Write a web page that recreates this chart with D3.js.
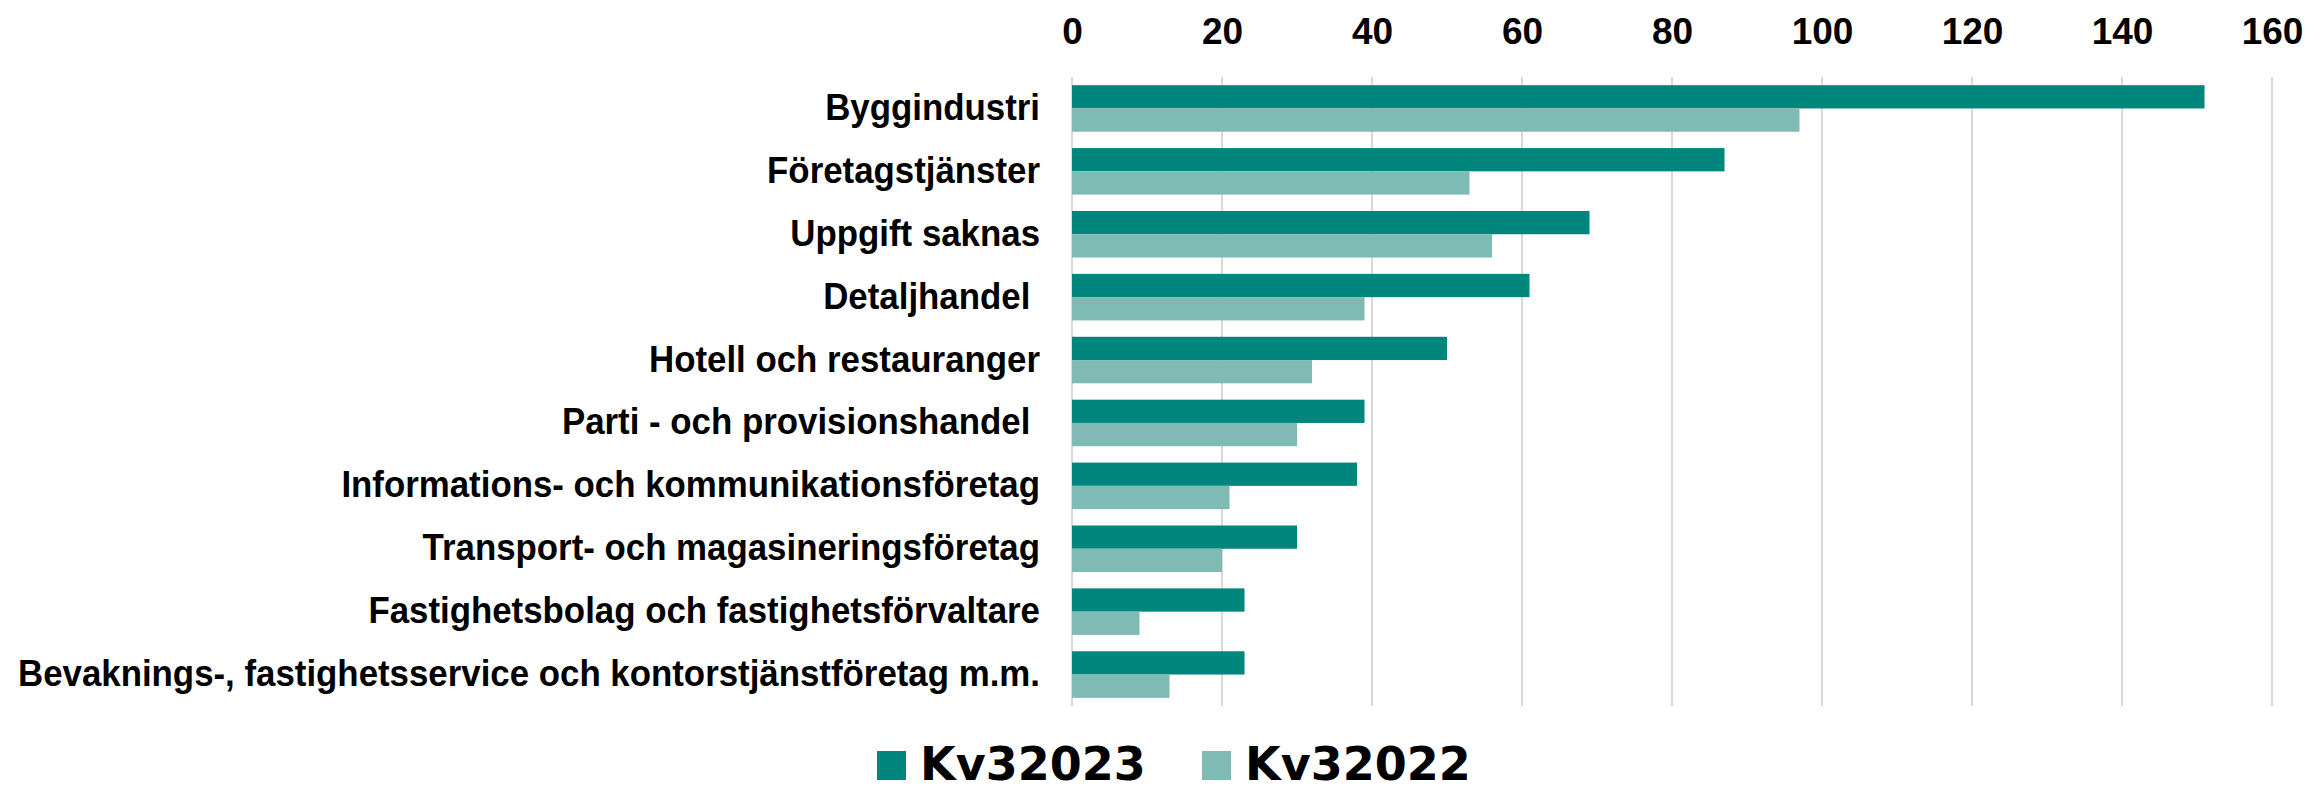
<!DOCTYPE html>
<html>
<head>
<meta charset="utf-8">
<script src="https://cdn.jsdelivr.net/npm/d3@7"></script>
<style>
  body { margin: 0; background: #fff; }
  svg text { white-space: pre; }
</style>
</head>
<body>
<svg id="chart"></svg>
<script>
const categories = [
    "Byggindustri",
    "Företagstjänster",
    "Uppgift saknas",
    "Detaljhandel ",
    "Hotell och restauranger",
    "Parti - och provisionshandel ",
    "Informations- och kommunikationsföretag",
    "Transport- och magasineringsföretag",
    "Fastighetsbolag och fastighetsförvaltare",
    "Bevaknings-, fastighetsservice och kontorstjänstföretag m.m."
];
const seriesNames = ["Kv32023", "Kv32022"];
const kv32023 = [151, 87, 69, 61, 50, 39, 38, 30, 23, 23];
const kv32022 = [97, 53, 56, 39, 32, 30, 21, 20, 9, 13];
const xTicks = [0, 20, 40, 60, 80, 100, 120, 140, 160];
const colors = ["#00867d", "#80bab4"];

const width = 2313;
const height = 793;
const plotLeft = 1072, plotRight = 2272, plotTop = 77, plotBottom = 706;
const labelRight = plotLeft - 32;
const longestLabelWidth = 1022; // widest category label in the original

const rows = categories.map(function (c, i) {
    return { cat: c, values: [kv32023[i], kv32022[i]] };
});

const svg = d3.select("#chart").attr("width", width).attr("height", height);

const x = d3.scaleLinear().domain([0, 160]).range([plotLeft, plotRight]);
const y = d3.scaleBand().domain(categories).range([plotTop, plotBottom])
    .paddingInner(0.26).paddingOuter(0.13);
const y1 = d3.scaleBand().domain(seriesNames).range([0, y.bandwidth()]);

// gridlines
svg.append("g").attr("class", "grid")
    .selectAll("line")
    .data(xTicks)
    .enter()
    .append("line")
    .attr("x1", function (d) { return x(d) })
    .attr("x2", function (d) { return x(d) })
    .attr("y1", plotTop)
    .attr("y2", plotBottom)
    .attr("stroke", "#d9d9d9")
    .attr("stroke-width", 2);

// top axis labels
const xAxis = svg.append("g")
    .attr("transform", "translate(0," + 44 + ")")
    .call(d3.axisTop(x).tickValues(xTicks).tickSize(0).tickPadding(0));
xAxis.select(".domain").remove();
xAxis.selectAll("text")
    .attr("font-family", "'Liberation Sans', Arial, sans-serif")
    .attr("font-weight", "bold")
    .attr("font-size", 37)
    .attr("fill", "#000");

// bars
const groups = svg.append("g").attr("class", "bars")
    .selectAll("g")
    .data(rows)
    .enter()
    .append("g")
    .attr("transform", function (d) { return "translate(0," + y(d.cat) + ")" });

groups.selectAll("rect")
    .data(function (d) { return d.values.map(function (v, i) { return { key: seriesNames[i], value: v, i: i } }) })
    .enter()
    .append("rect")
    .attr("x", x(0))
    .attr("y", function (d) { return y1(d.key) })
    .attr("height", y1.bandwidth())
    .attr("width", function (d) { return x(d.value) - x(0) })
    .attr("fill", function (d) { return colors[d.i] });

// category labels
const yAxis = svg.append("g")
    .attr("transform", "translate(" + labelRight + ",0)")
    .call(d3.axisLeft(y).tickSize(0).tickPadding(0));
yAxis.select(".domain").remove();
const catText = yAxis.selectAll("text")
    .attr("font-family", "'Liberation Sans', Arial, sans-serif")
    .attr("font-weight", "bold")
    .attr("font-size", 36)
    .attr("fill", "#000");

// squeeze the labels so they read narrow like the original
let maxLen = 0;
catText.each(function () { maxLen = Math.max(maxLen, this.getComputedTextLength()) });
const squeeze = Math.min(1, longestLabelWidth / maxLen);
catText.each(function () {
    const len = this.getComputedTextLength();
    d3.select(this)
        .attr("textLength", len * squeeze)
        .attr("lengthAdjust", "spacingAndGlyphs");
});

// legend
const legend = svg.append("g").attr("class", "legend")
    .selectAll("g")
    .data(seriesNames)
    .enter()
    .append("g")
    .attr("transform", function (d, i) { return "translate(" + (877 + i * 325) + ",751)" });

legend.append("rect")
    .attr("width", 29)
    .attr("height", 29)
    .attr("fill", function (d, i) { return colors[i] });

legend.append("text")
    .attr("x", 43)
    .attr("y", 29)
    .attr("font-family", "'DejaVu Sans', sans-serif")
    .attr("font-weight", "bold")
    .attr("font-size", 46)
    .attr("fill", "#000")
    .text(function (d) { return d });
</script>
</body>
</html>
